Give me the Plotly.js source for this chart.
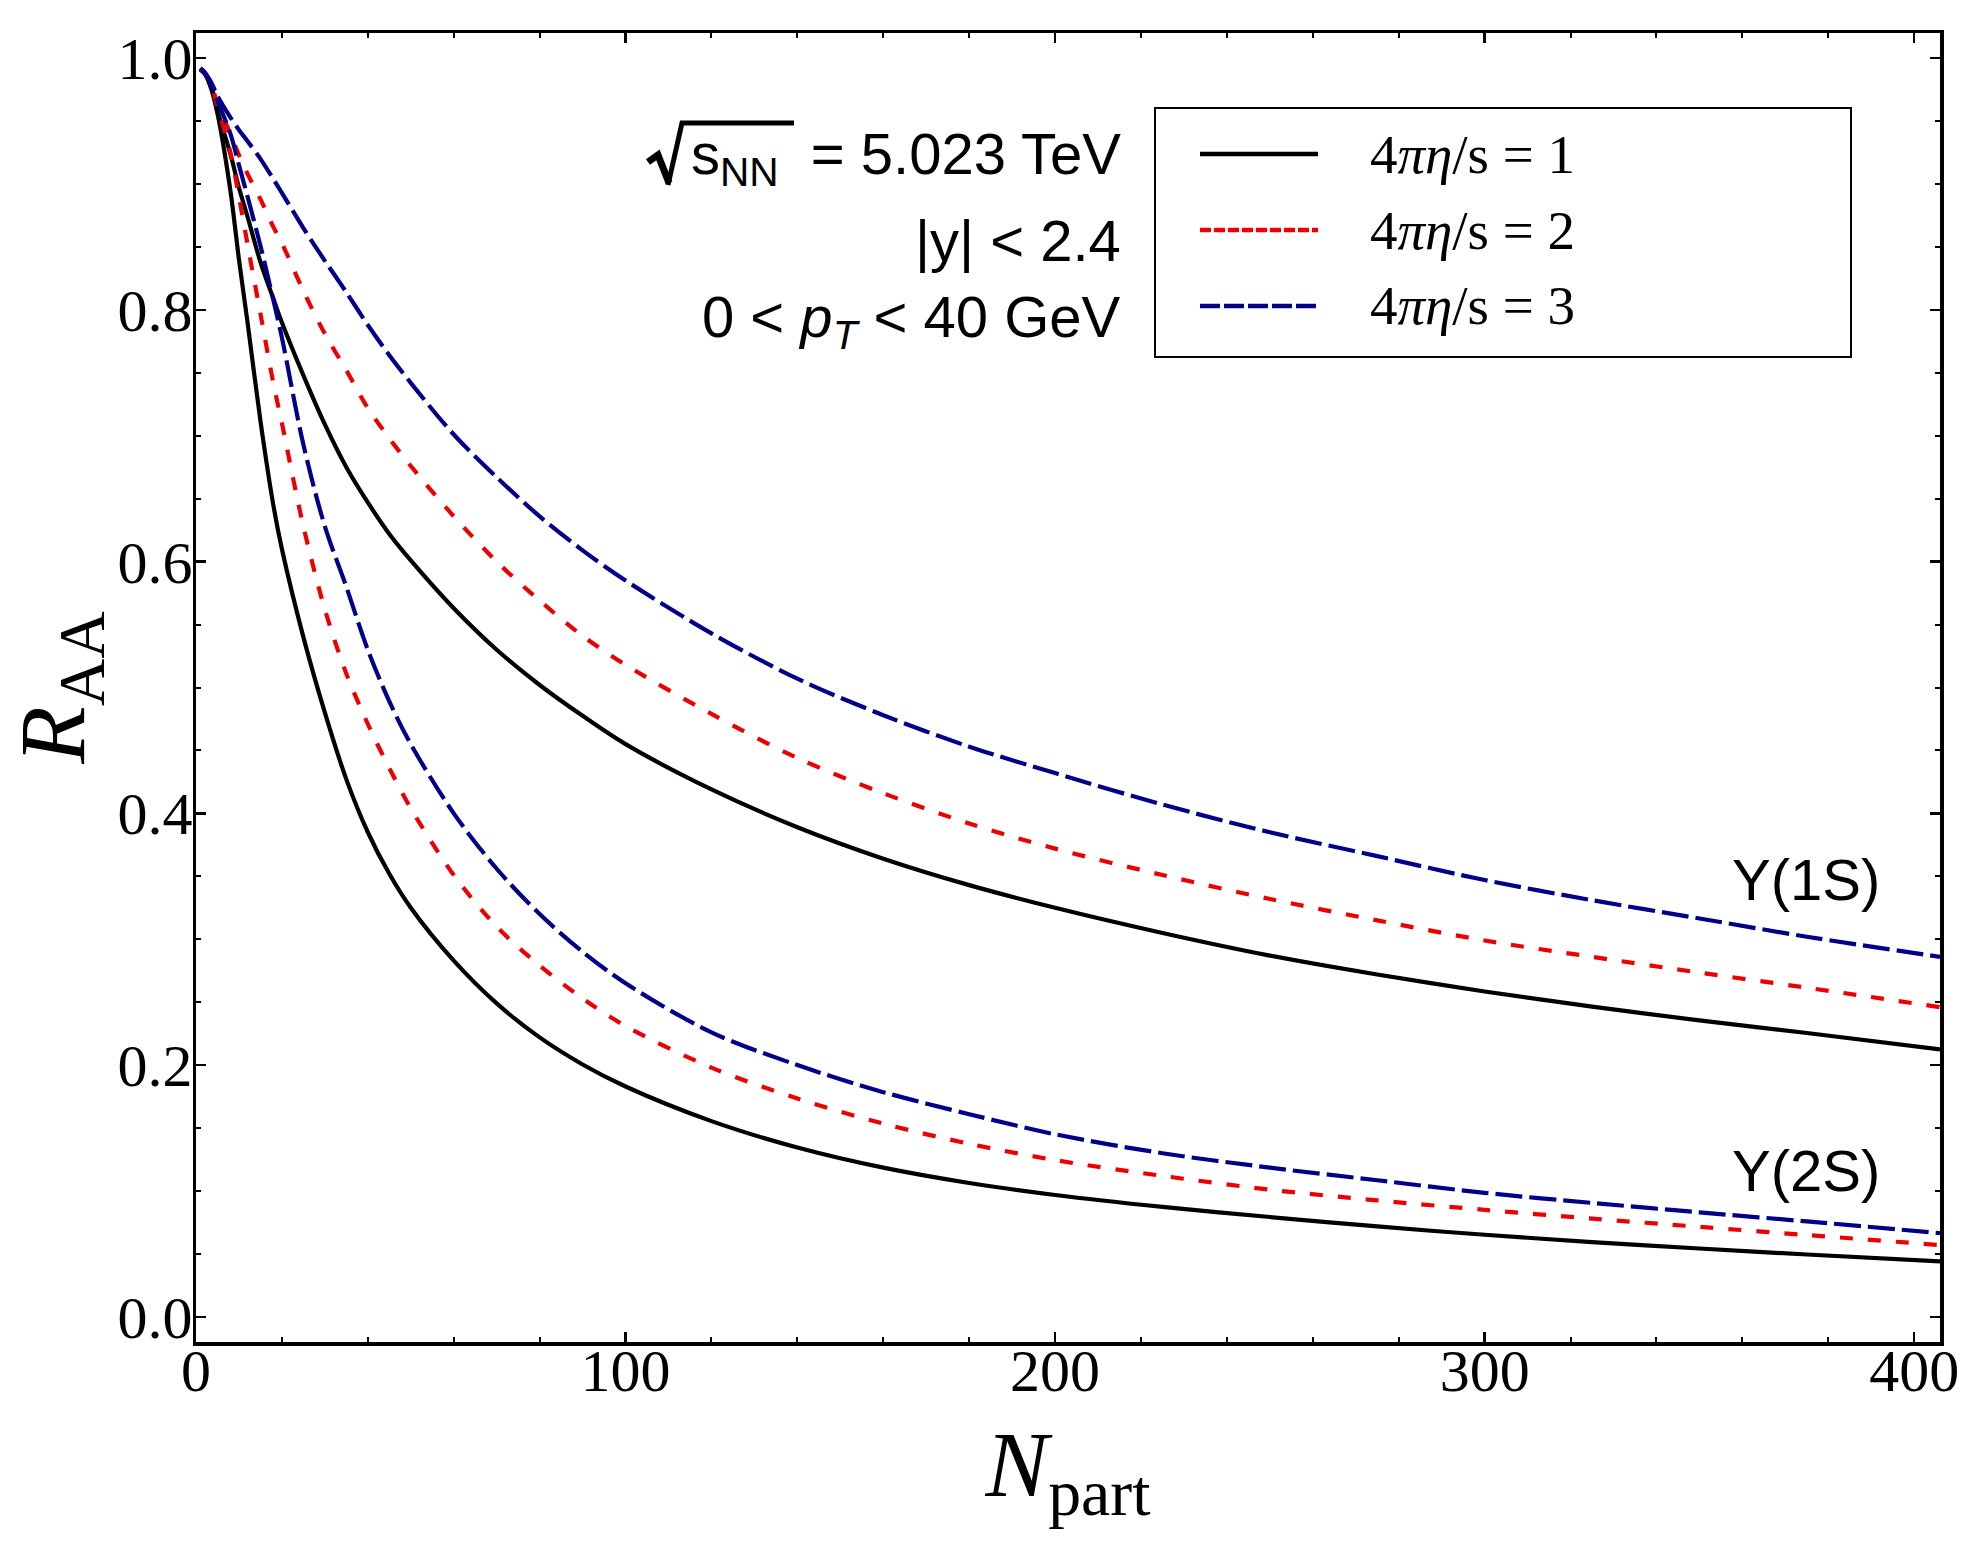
<!DOCTYPE html>
<html>
<head>
<meta charset="utf-8">
<script src="https://cdn.plot.ly/plotly-3.0.1.min.js"></script>
<style>
  html, body { margin: 0; padding: 0; background: #fff; }
  #plot { width: 1981px; height: 1550px; }
</style>
</head>
<body>
<div id="plot"></div>
<script>
var nPart = [1, 2, 3.5, 5, 8, 10, 12, 15, 18, 20, 25, 30, 35, 40, 45, 50, 60, 70, 80, 90,
             100, 120, 140, 160, 180, 200, 225, 250, 275, 300, 325, 350, 375, 406];

// R_AA of Upsilon(1S) for 4 pi eta/s = 1, 2, 3
var ups1S_eta1 = [0.991, 0.988, 0.978, 0.958, 0.924, 0.897, 0.874, 0.838, 0.809, 0.790,
                  0.748, 0.709, 0.675, 0.647, 0.622, 0.601, 0.563, 0.530, 0.502, 0.4775,
                  0.455, 0.419, 0.389, 0.364, 0.343, 0.325, 0.305, 0.287, 0.272, 0.2585,
                  0.2465, 0.2355, 0.2255, 0.2125];
var ups1S_eta2 = [0.991, 0.988, 0.979, 0.964, 0.940, 0.923, 0.908, 0.888, 0.866, 0.853,
                  0.815, 0.781, 0.752, 0.722, 0.698, 0.676, 0.636, 0.600, 0.569, 0.541,
                  0.518, 0.479, 0.444, 0.416, 0.392, 0.372, 0.351, 0.332, 0.315, 0.299,
                  0.286, 0.2735, 0.2615, 0.246];
var ups1S_eta3 = [0.992, 0.989, 0.981, 0.970, 0.953, 0.943, 0.934, 0.920, 0.904, 0.893,
                  0.865, 0.839, 0.814, 0.788, 0.764, 0.742, 0.701, 0.667, 0.636, 0.609,
                  0.585, 0.543, 0.507, 0.478, 0.453, 0.432, 0.407, 0.385, 0.366, 0.347,
                  0.331, 0.3165, 0.302, 0.286];

// R_AA of Upsilon(2S) for 4 pi eta/s = 1, 2, 3
var ups2S_eta1 = [0.991, 0.988, 0.976, 0.956, 0.895, 0.840, 0.790, 0.712, 0.645, 0.610,
                  0.540, 0.480, 0.427, 0.385, 0.352, 0.325, 0.283, 0.249, 0.222, 0.2005,
                  0.183, 0.1555, 0.1345, 0.1185, 0.1063, 0.0968, 0.0873, 0.0793, 0.0718, 0.0652,
                  0.0594, 0.0543, 0.0495, 0.0441];
var ups2S_eta2 = [0.991, 0.988, 0.978, 0.962, 0.925, 0.890, 0.852, 0.797, 0.742, 0.710,
                  0.628, 0.562, 0.511, 0.471, 0.436, 0.404, 0.351, 0.310, 0.279, 0.253,
                  0.231, 0.198, 0.1735, 0.1535, 0.1375, 0.1245, 0.112, 0.101, 0.0925, 0.085,
                  0.078, 0.0715, 0.065, 0.057];
var ups2S_eta3 = [0.992, 0.988, 0.979, 0.966, 0.940, 0.915, 0.890, 0.851, 0.808, 0.778,
                  0.693, 0.628, 0.580, 0.530, 0.489, 0.455, 0.400, 0.356, 0.320, 0.290,
                  0.265, 0.226, 0.200, 0.1785, 0.161, 0.145, 0.130, 0.1185, 0.1085, 0.0985,
                  0.0905, 0.083, 0.0758, 0.0665];

var xTicks = [0, 100, 200, 300, 400];
var yTicks = [0.0, 0.2, 0.4, 0.6, 0.8, 1.0];

var etaNames = ['4<i>πη</i>/s = 1', '4<i>πη</i>/s = 2', '4<i>πη</i>/s = 3'];
var stateNames = ['Υ(1S)', 'Υ(2S)'];
var infoLines = [
  's<sub>NN</sub>\u00A0 = 5.023 TeV',
  '|y| < 2.4',
  '0 < <i>p</i><sub><i>T</i></sub> < 40 GeV'
];

// line look per viscosity value
var curveStyle = [
  {color: '#000000', dash: 'solid', legendDash: 'solid'},
  {color: '#ee0000', dash: '13px,15px', legendDash: '11px,3px'},
  {color: '#00008b', dash: '27px,7px', legendDash: '20px,4px'}
];

// plot frame in page pixels, used to place the decorations
var L = 196, R = 1940, T = 33, B = 1342;
function px(x) { return (x - L) / (R - L); }
function py(y) { return (B - y) / (B - T); }
function pathOf(pts) {
  return pts.map(function(p, i) {
    return (i ? 'L' : 'M') + px(p[0]).toFixed(5) + ',' + py(p[1]).toFixed(5);
  }).join(' ');
}

var serif = 'Liberation Serif, Times New Roman, serif';
var sans = 'Liberation Sans, Arial, sans-serif';

var series = [
  [ups1S_eta1, ups1S_eta2, ups1S_eta3],
  [ups2S_eta1, ups2S_eta2, ups2S_eta3]
];

var traces = [];
for (var s = 0; s < series.length; s++) {
  for (var k = 0; k < 3; k++) {
    traces.push({
      type: 'scatter',
      mode: 'lines',
      name: stateNames[s] + ' ' + etaNames[k],
      x: nPart,
      y: series[s][k],
      line: {color: curveStyle[k].color, width: 4.2, dash: curveStyle[k].dash,
             shape: 'spline', smoothing: 0.9},
      showlegend: false,
      hoverinfo: 'skip'
    });
  }
}

// hand drawn legend box, like the original
var shapes = [{
  type: 'rect', xref: 'paper', yref: 'paper',
  x0: px(1155), x1: px(1851), y0: py(357), y1: py(108),
  line: {color: '#000', width: 2}, fillcolor: 'rgba(255,255,255,0)'
}];
var legendRows = [154, 230, 306];
var annotations = [];
for (var k = 0; k < 3; k++) {
  shapes.push({
    type: 'line', xref: 'paper', yref: 'paper',
    x0: px(1200), x1: px(1318), y0: py(legendRows[k]), y1: py(legendRows[k]),
    line: {color: curveStyle[k].color, width: 4.5, dash: curveStyle[k].legendDash}
  });
  annotations.push({
    xref: 'paper', yref: 'paper', x: px(1368), y: py(legendRows[k]),
    xanchor: 'left', yanchor: 'middle', showarrow: false,
    text: etaNames[k], font: {family: serif, size: 55, color: '#000'}
  });
}

// square root sign in front of s_NN
shapes.push({
  type: 'path', xref: 'paper', yref: 'paper',
  path: pathOf([[648, 162], [658, 155], [669, 183]]),
  line: {color: '#000', width: 7}
});
shapes.push({
  type: 'path', xref: 'paper', yref: 'paper',
  path: pathOf([[668, 185], [682, 123], [794, 123]]),
  line: {color: '#000', width: 5}
});

var infoRows = [158, 240, 321];
for (var i = 0; i < infoLines.length; i++) {
  annotations.push({
    xref: 'paper', yref: 'paper', x: px(1123), y: py(infoRows[i]),
    xanchor: 'right', yanchor: 'middle', showarrow: false,
    text: infoLines[i], font: {family: sans, size: 58, color: '#000'}
  });
}

var stateRows = [880, 1170];
for (var s = 0; s < stateNames.length; s++) {
  annotations.push({
    xref: 'paper', yref: 'paper', x: px(1806), y: py(stateRows[s]),
    xanchor: 'center', yanchor: 'middle', showarrow: false,
    text: stateNames[s], font: {family: sans, size: 58, color: '#000'}
  });
}

var axisCommon = {
  showline: true, linecolor: '#000', linewidth: 3.5,
  mirror: 'allticks', ticks: 'inside', ticklen: 10, tickwidth: 2.5, tickcolor: '#000',
  showgrid: false, zeroline: false,
  tickfont: {family: serif, size: 60, color: '#000'}
};

var layout = {
  width: 1981,
  height: 1550,
  margin: {l: L, r: 1981 - R, t: T, b: 1550 - B, pad: 0},
  paper_bgcolor: '#fff',
  plot_bgcolor: '#fff',
  showlegend: false,
  xaxis: Object.assign({}, axisCommon, {
    range: [0, 406],
    tickvals: xTicks,
    ticktext: xTicks.map(function(v) { return String(v); }),
    ticklabelstandoff: -27,
    minor: {dtick: 20, ticks: 'inside', ticklen: 5, tickwidth: 2, tickcolor: '#000'},
    title: {text: '<i>N</i><sub>part</sub>', font: {family: serif, size: 94, color: '#000'}, standoff: 28}
  }),
  yaxis: Object.assign({}, axisCommon, {
    range: [-0.02, 1.02],
    tickvals: yTicks,
    ticktext: yTicks.map(function(v) { return v.toFixed(1); }),
    ticklabelstandoff: -12,
    minor: {dtick: 0.05, ticks: 'inside', ticklen: 5, tickwidth: 2, tickcolor: '#000'},
    title: {text: '<i>R</i><sub>AA</sub>', font: {family: serif, size: 94, color: '#000'}, standoff: 26}
  }),
  shapes: shapes,
  annotations: annotations
};

Plotly.newPlot('plot', traces, layout, {displayModeBar: false, staticPlot: true});
</script>
</body>
</html>
